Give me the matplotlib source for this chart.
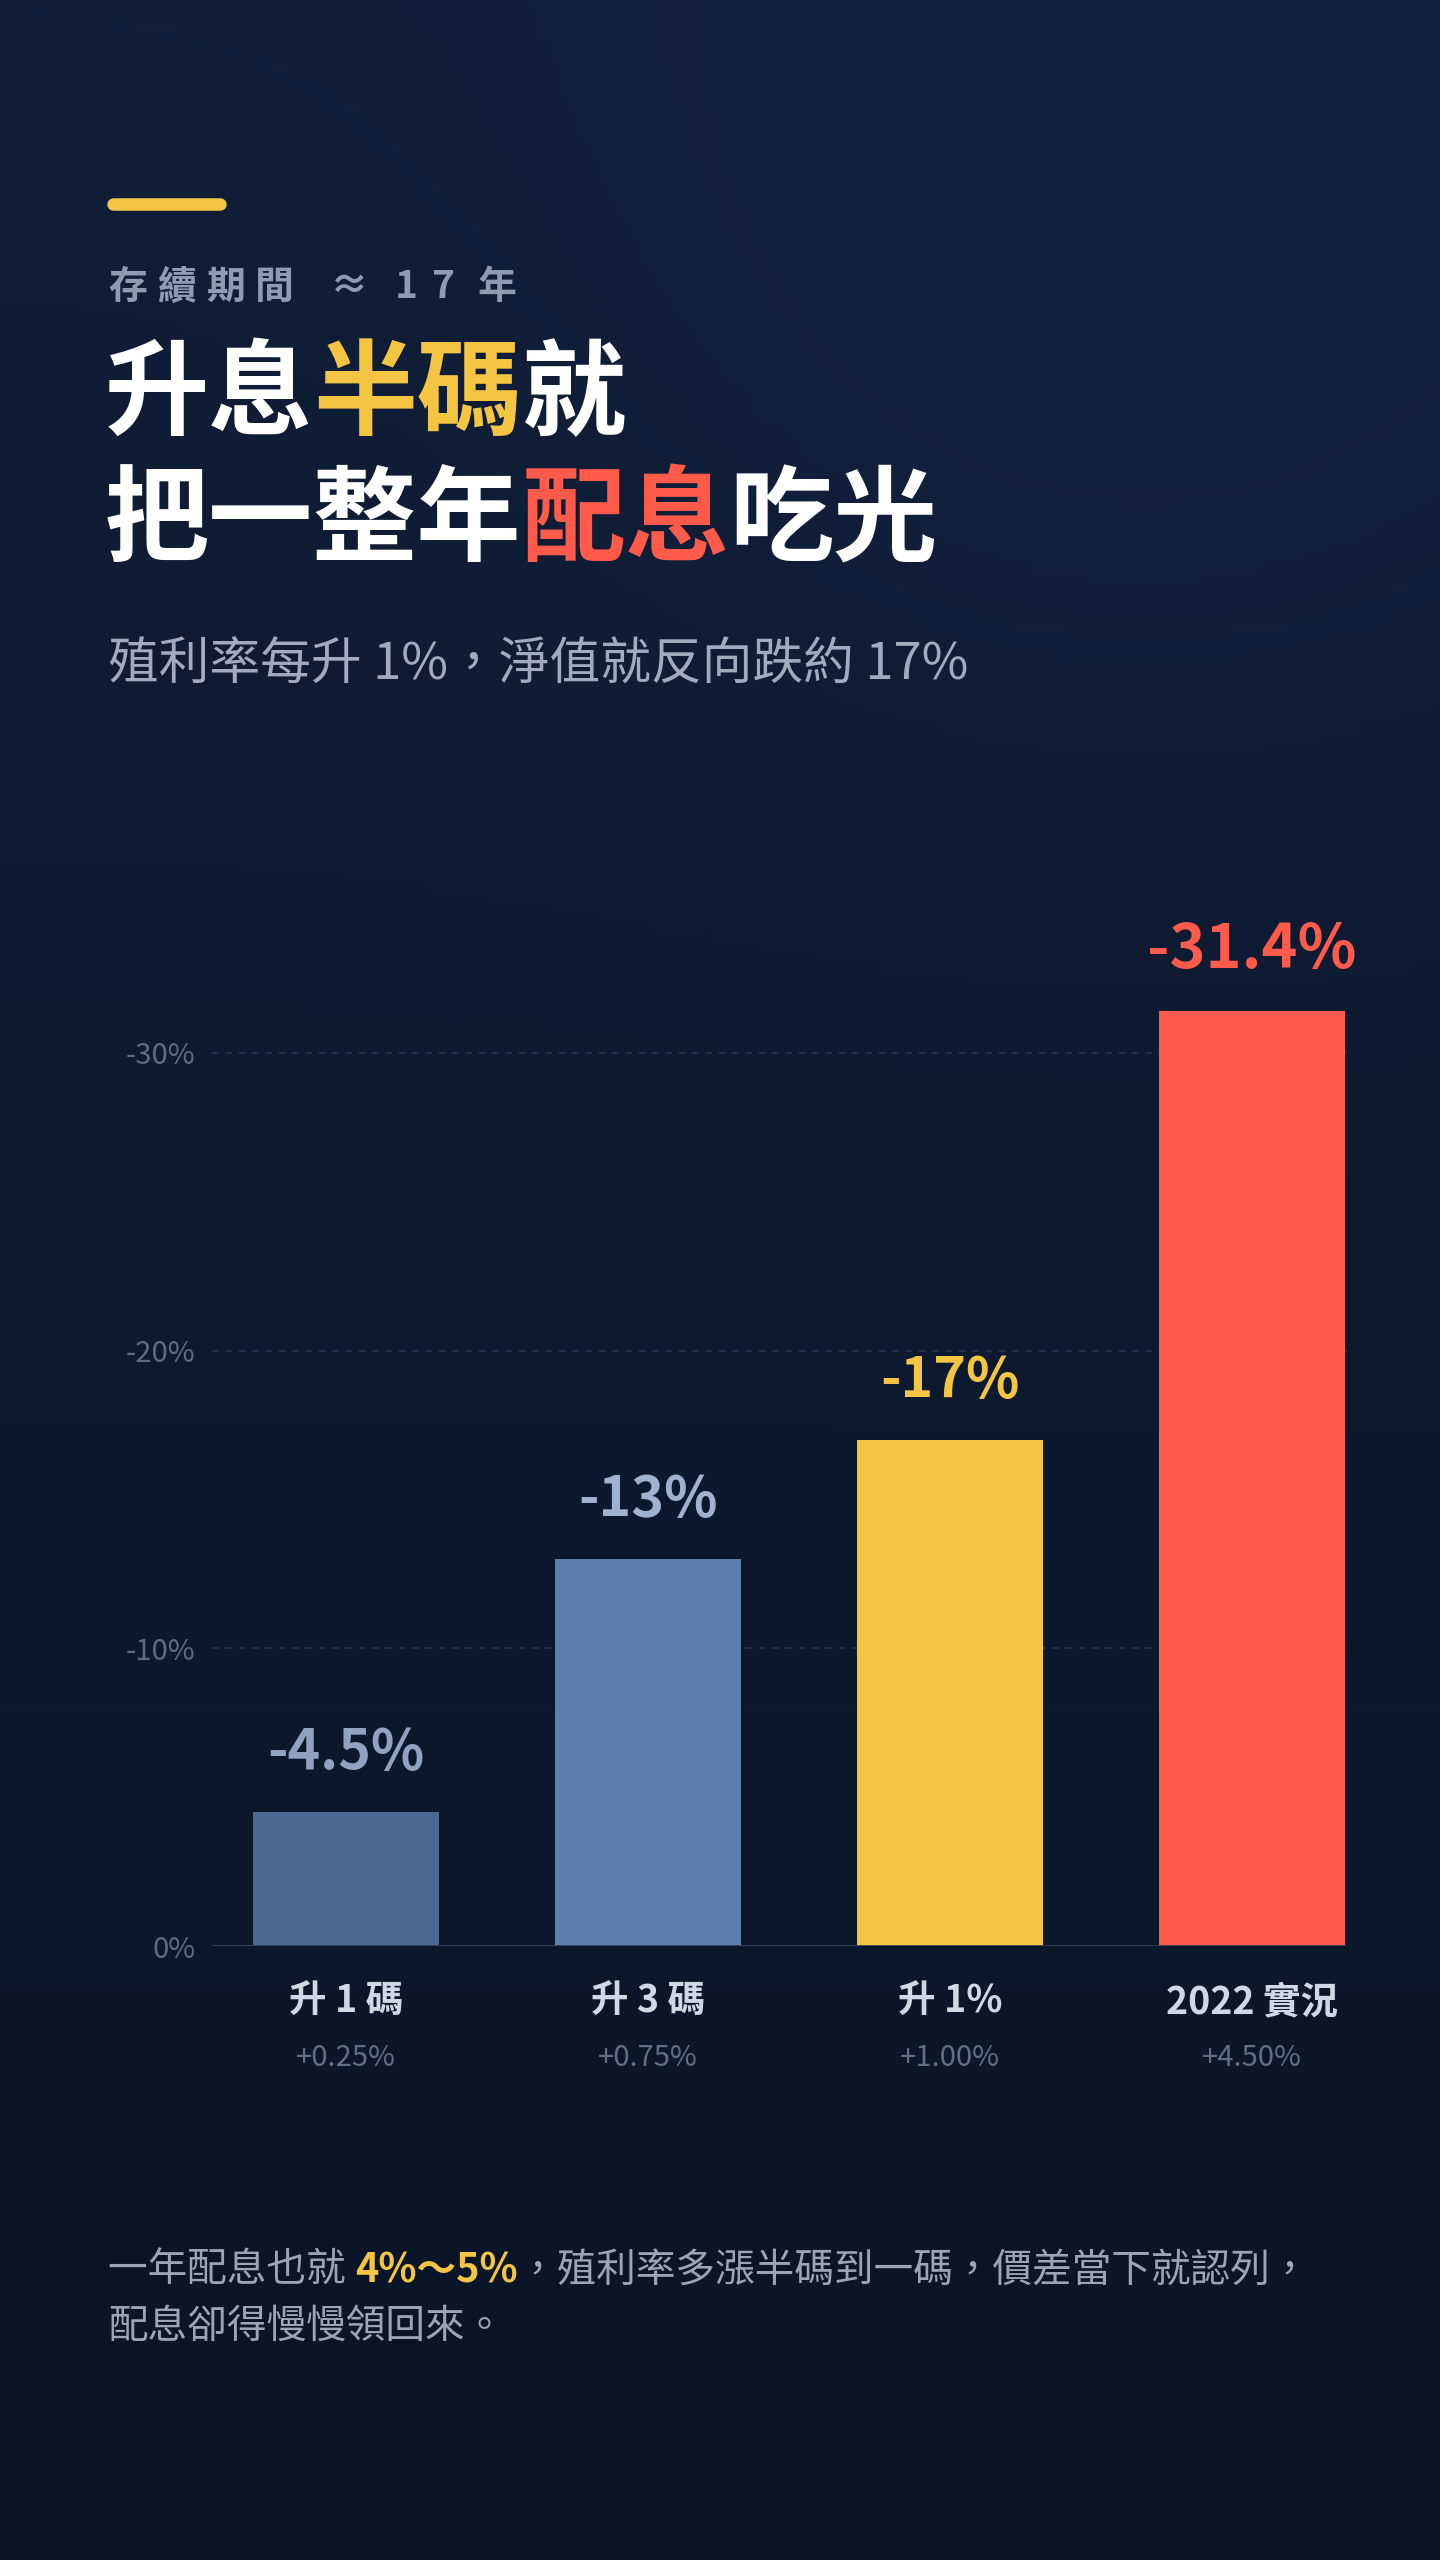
import numpy as np
import matplotlib
matplotlib.use('Agg')
import matplotlib.pyplot as plt

plt.rcParams['font.family'] = ['Noto Sans CJK TC', 'DejaVu Sans']

# ---- data ----
categories = ['升 1 碼', '升 3 碼', '升 1%', '2022 實況']
rate_moves = ['+0.25%', '+0.75%', '+1.00%', '+4.50%']
drops = [4.5, 13, 17, 31.4]
value_labels = ['-4.5%', '-13%', '-17%', '-31.4%']
yticks = [0, 10, 20, 30]
ytick_labels = ['0%', '-10%', '-20%', '-30%']

bar_colors = ['#4a6890', '#5b80ad', '#f4c542', '#ff5a4a']
label_colors = ['#8fa3c0', '#9fb3d0', '#f4c542', '#ff5a4a']

W, H = 1440, 2560
fig = plt.figure(figsize=(W / 100, H / 100), dpi=100)

# background gradient + soft glow
bg = fig.add_axes([0, 0, 1, 1])
yy, xx = np.mgrid[0:1:256j, 0:1:144j]
top = np.array([0x10, 0x1e, 0x38]) / 255
bot = np.array([0x0a, 0x15, 0x26]) / 255
t = yy[..., None]
img = top * (1 - t) + bot * t
d = np.sqrt(((xx - 0.8) * 0.5625) ** 2 + (yy - 0.08) ** 2)
glow = np.exp(-(d / 0.2) ** 2)[..., None] * 0.04
img = np.clip(img + glow * np.array([0.3, 0.5, 1.0]), 0, 1)
bg.imshow(img, extent=[0, 1, 0, 1], aspect='auto', origin='upper')
bg.set_xlim(0, 1); bg.set_ylim(0, 1)
bg.axis('off')


def px(x, y):
    return x / W, 1 - y / H


# yellow accent line
bg.plot([113 / W, 220 / W], [1 - 204 / H] * 2, color='#f4c542', lw=9, solid_capstyle='round')

renderer = fig.canvas.get_renderer()


def rich(x, y, parts, size, weight='bold', track=0):
    xf = x
    for s, c, w in parts:
        t = fig.text(xf / W, 1 - y / H, s, fontsize=size, weight=w or weight,
                     color=c, va='center')
        bb = t.get_window_extent(renderer)
        xf += bb.width + track


# letter-spaced kicker
rich(108, 287, [(ch, '#8f9bb0', None) for ch in '存續期間'], 28, track=10)
rich(330, 287, [('≈', '#8f9bb0', None)], 28)
rich(395, 287, [(ch, '#8f9bb0', None) for ch in '17'], 28, track=14)
rich(478, 287, [('年', '#8f9bb0', None)], 28)

rich(105, 396, [('升息', 'white', None), ('半碼', '#f4c542', None), ('就', 'white', None)], 75)
rich(105, 522, [('把一整年', 'white', None), ('配息', '#ff5a4a', None), ('吃光', 'white', None)], 75)
fig.text(*px(108, 666), '殖利率每升 1%，淨值就反向跌約 17%', fontsize=36.5, color='#a0abbd', va='center')

# ---- chart ----
ax_l, ax_r, ax_b = 212, 1347, 1946
y30 = 1053
ymax = 30 * (ax_b - 0) / (ax_b - y30)  # axis top at y=0 px
ax = fig.add_axes([ax_l / W, 1 - ax_b / H, (ax_r - ax_l) / W, ax_b / H])
ax.set_facecolor('none')
x = np.arange(len(drops))
ax.bar(x, drops, width=0.616, color=bar_colors, zorder=3)
for i, v in enumerate(drops):
    ax.annotate(value_labels[i], (x[i], v), xytext=(0, 22), textcoords='offset points',
                ha='center', va='bottom', fontsize=40 if i < 3 else 44, weight='bold',
                color=label_colors[i])
ax.set_xlim(-0.444, 3.315)
ax.set_ylim(0, ymax)
for s in ax.spines.values():
    s.set_visible(False)
ax.axhline(0, color='#34425a', lw=2, zorder=4)
for v in yticks[1:]:
    ax.axhline(v, color='#26344c', lw=1.2, ls=(0, (4, 4)), zorder=1)
ax.set_yticks(yticks)
ax.set_yticklabels(ytick_labels, fontsize=21, color='#5d6b80')
ax.tick_params(axis='y', length=0, pad=12)
ax.set_xticks([])
for i in range(len(categories)):
    ax.annotate(categories[i], (x[i], 0), xytext=(0, -40), textcoords='offset points',
                ha='center', va='center', fontsize=27, weight='bold', color='#d0d8e4',
                annotation_clip=False)
    ax.annotate(rate_moves[i], (x[i], 0), xytext=(0, -81), textcoords='offset points',
                ha='center', va='center', fontsize=21, color='#5f6f85',
                annotation_clip=False)

# footer
rich(108, 2271, [('一年配息也就 ', '#9aa6b8', 'normal'), ('4%〜5%', '#f4c542', 'bold'),
                 ('，殖利率多漲半碼到一碼，價差當下就認列，', '#9aa6b8', 'normal')], 28.5)
fig.text(*px(108, 2327), '配息卻得慢慢領回來。', fontsize=28.5, color='#9aa6b8', va='center')

fig.savefig('out.png', dpi=100)
